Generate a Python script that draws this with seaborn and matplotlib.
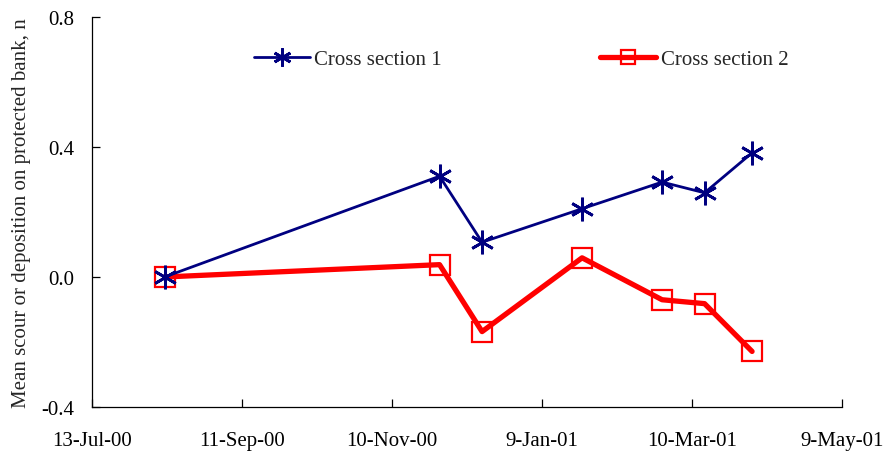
import matplotlib
matplotlib.use('Agg')
import matplotlib.pyplot as plt
import matplotlib.dates as mdates
import numpy as np
import pandas as pd
import seaborn as sns

dates = ['2000-08-11', '2000-11-29', '2000-12-16', '2001-01-25',
         '2001-02-26', '2001-03-15', '2001-04-03']
section_1 = [0.0, 0.310, 0.107, 0.210, 0.292, 0.259, 0.382]
section_2 = [0.0, 0.038, -0.168, 0.059, -0.070, -0.082, -0.229]
tick_dates = ['2000-07-13', '2000-09-11', '2000-11-10', '2001-01-09',
              '2001-03-10', '2001-05-09']
y_ticks = [-0.4, 0.0, 0.4, 0.8]

df = pd.DataFrame({'date': pd.to_datetime(dates),
                   's1': section_1, 's2': section_2})

sns.set_style('white')
plt.rcParams['font.family'] = ['Liberation Serif', 'DejaVu Serif']
plt.rcParams['font.size'] = 15

fig = plt.figure(figsize=(8.85, 4.52), dpi=100)
ax = fig.add_axes([0.104, 0.0973, 0.8475, 0.863])

sns.lineplot(data=df, x='date', y='s2', ax=ax, color='#ff0000', lw=3.8,
             marker='s', markersize=15, markerfacecolor='none',
             markeredgecolor='#ff0000', markeredgewidth=1.6,
             label='Cross section 2', zorder=2)
sns.lineplot(data=df, x='date', y='s1', ax=ax, color='#000080', lw=2.0,
             marker=(6, 2, 0), markersize=17, markeredgewidth=2.0,
             markeredgecolor='#000080', label='Cross section 1', zorder=3)

ticks = pd.to_datetime(tick_dates)
ax.set_xlim(ticks[0], ticks[-1])
ax.set_xticks(ticks)
ax.xaxis.set_major_formatter(plt.FuncFormatter(
    lambda v, p: '{}-{}'.format(mdates.num2date(v).day,
                                mdates.num2date(v).strftime('%b-%y'))))
ax.set_ylim(-0.4, 0.8)
ax.set_yticks(y_ticks)
ax.set_yticklabels(['{:.1f}'.format(v) for v in y_ticks])

ax.set_xlabel('')
ax.set_ylabel('Mean scour or deposition on protected bank, n', fontsize=15)
ax.yaxis.set_label_coords(-0.082, 0.5)
ax.tick_params(direction='in', length=6, width=0.9, colors='black',
               labelsize=15, left=True, bottom=True)
ax.tick_params(axis='x', pad=17.5)
ax.tick_params(axis='y', pad=13)
for s in ['top', 'right']:
    ax.spines[s].set_visible(False)
for s in ['left', 'bottom']:
    ax.spines[s].set_color('black')
    ax.spines[s].set_linewidth(0.9)

h, l = ax.get_legend_handles_labels()
leg = ax.legend(h[::-1], l[::-1], loc='center', bbox_to_anchor=(0.572, 0.892),
                ncol=2, frameon=False, fontsize=15, columnspacing=7.6,
                handlelength=2.7, handletextpad=0.2)
leg.legend_handles[0].set_markersize(13)
leg.legend_handles[1].set_markersize(10)

fig.savefig('out.png', dpi=100)
